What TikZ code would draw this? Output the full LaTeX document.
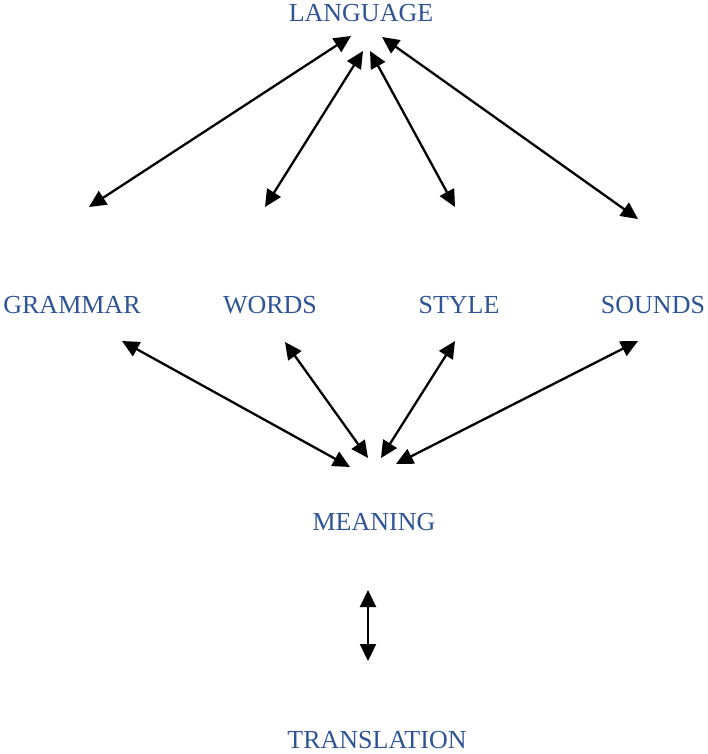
\documentclass[tikz,border=0pt]{standalone}
\usepackage{fontspec}
\setmainfont{Liberation Serif}
\usetikzlibrary{arrows.meta}
\definecolor{wordblue}{RGB}{47,84,150}
\begin{document}
\begin{tikzpicture}[x = 1pt, y = -1pt,
  word/.style = {text = wordblue, font = \fontsize{26}{30}\selectfont, anchor = base, inner sep = 0pt},
  link/.style = {draw = black, line width = 2.3pt, {Triangle[length = 17pt, width = 16pt]}-{Triangle[length = 17pt, width = 16pt]}}]
\useasboundingbox (0,0) rectangle (707,754);
\node[word] (language) at (361,22) {LANGUAGE};
\node[word] (grammar) at (72,313) {GRAMMAR};
\node[word] (words) at (270,313) {WORDS};
\node[word] (style) at (459,313) {STYLE};
\node[word] (sounds) at (653,313) {SOUNDS};
\node[word] (meaning) at (374,530) {MEANING};
\node[word] (translation) at (377,748) {TRANSLATION};
% arrow ends
\coordinate (lang1) at (351,36);
\coordinate (lang2) at (363,51);
\coordinate (lang3) at (370,51);
\coordinate (lang4) at (382,37);
\coordinate (up1) at (89,207);
\coordinate (up2) at (265,207);
\coordinate (up3) at (455,207);
\coordinate (up4) at (638,219);
\coordinate (low1) at (122,341);
\coordinate (low2) at (285,342);
\coordinate (low3) at (455,341);
\coordinate (low4) at (638,341);
\coordinate (mean1) at (350,467);
\coordinate (mean2) at (368,458);
\coordinate (mean3) at (381,458);
\coordinate (mean4) at (396,464);
\coordinate (trans1) at (368,590);
\coordinate (trans2) at (368,661);
\foreach \n in {1,...,4} \draw[link] (lang\n) -- (up\n);
\foreach \n in {1,...,4} \draw[link] (low\n) -- (mean\n);
\draw[link] (trans1) -- (trans2);
\end{tikzpicture}
\end{document}
